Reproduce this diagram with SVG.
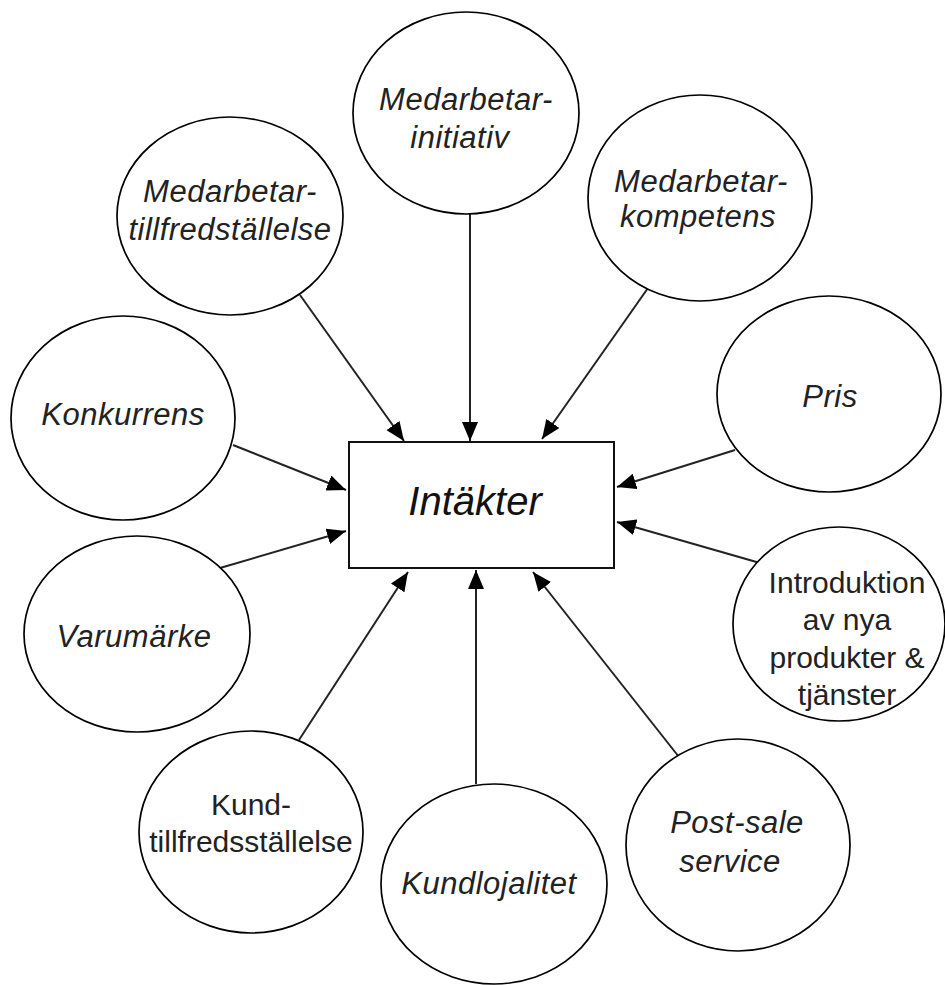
<svg xmlns="http://www.w3.org/2000/svg" width="945" height="985" viewBox="0 0 945 985">
  <style>
    .bubble { fill: #ffffff; stroke: #000000; stroke-width: 1.7; }
    .box { fill: #ffffff; stroke: #111111; stroke-width: 2; }
    .lbl { font-family: "Liberation Sans", Arial, sans-serif; font-size: 31px; font-style: italic; fill: #222222; text-anchor: middle; letter-spacing: 0.5px; }
    .up { font-family: "Liberation Sans", Arial, sans-serif; font-size: 30px; fill: #222222; text-anchor: middle; }
    .main { font-family: "Liberation Sans", Arial, sans-serif; font-size: 40px; font-style: italic; fill: #111111; text-anchor: middle; }
    .link { stroke: #222222; stroke-width: 2; fill: none; marker-end: url(#head); }
  </style>
  <defs>
    <!-- solid triangular arrowhead shared by all connectors -->
    <marker id="head" viewBox="0 0 19 16" refX="19" refY="8" markerWidth="19" markerHeight="16" markerUnits="userSpaceOnUse" orient="auto">
      <path d="M0,0 L19,8 L0,16 Z" fill="#000000"/>
    </marker>
  </defs>

  <rect width="945" height="985" fill="#ffffff"/>

  <!-- connectors -->
  <g id="connectors">
    <line class="link" x1="470" y1="214" x2="470" y2="441"/>
    <line class="link" x1="300" y1="295" x2="404" y2="441"/>
    <line class="link" x1="648" y1="288" x2="542" y2="439"/>
    <line class="link" x1="233" y1="445" x2="346" y2="490"/>
    <line class="link" x1="220" y1="568" x2="346" y2="531"/>
    <line class="link" x1="735" y1="450" x2="617" y2="487"/>
    <line class="link" x1="760" y1="563" x2="617" y2="522"/>
    <line class="link" x1="299" y1="740" x2="408" y2="572"/>
    <line class="link" x1="476" y1="784" x2="476" y2="570"/>
    <line class="link" x1="679" y1="757" x2="533" y2="572"/>
  </g>

  <!-- central node -->
  <g id="intakter">
    <rect class="box" x="349" y="442" width="265" height="126"/>
    <text class="main" x="475" y="515">Intäkter</text>
  </g>

  <g id="medarbetar-initiativ">
    <ellipse class="bubble" cx="466" cy="113" rx="113" ry="101"/>
    <text class="lbl" x="466" y="110">Medarbetar-</text>
    <text class="lbl" x="460" y="148">initiativ</text>
  </g>

  <g id="medarbetar-tillfredsstallelse">
    <ellipse class="bubble" cx="230" cy="216" rx="113" ry="99"/>
    <text class="lbl" x="230" y="202">Medarbetar-</text>
    <text class="lbl" x="230" y="240">tillfredställelse</text>
  </g>

  <g id="medarbetar-kompetens">
    <ellipse class="bubble" cx="700" cy="198" rx="112" ry="103"/>
    <text class="lbl" x="701" y="192">Medarbetar-</text>
    <text class="lbl" x="698" y="227">kompetens</text>
  </g>

  <g id="konkurrens">
    <ellipse class="bubble" cx="123" cy="418" rx="112" ry="102"/>
    <text class="lbl" x="123" y="425">Konkurrens</text>
  </g>

  <g id="pris">
    <ellipse class="bubble" cx="829" cy="394" rx="112" ry="98"/>
    <text class="lbl" x="830" y="407">Pris</text>
  </g>

  <g id="varumarke">
    <ellipse class="bubble" cx="137" cy="634" rx="113" ry="98"/>
    <text class="lbl" x="134" y="647">Varumärke</text>
  </g>

  <g id="introduktion">
    <ellipse class="bubble" cx="839" cy="624" rx="106" ry="97"/>
    <text class="up" x="847" y="593">Introduktion</text>
    <text class="up" x="847" y="630">av nya</text>
    <text class="up" x="847" y="668">produkter &amp;</text>
    <text class="up" x="847" y="705">tjänster</text>
  </g>

  <g id="kund-tillfredsstallelse">
    <ellipse class="bubble" cx="251" cy="832" rx="112" ry="101"/>
    <text class="up" x="251" y="815">Kund-</text>
    <text class="up" x="251" y="852">tillfredsställelse</text>
  </g>

  <g id="kundlojalitet">
    <ellipse class="bubble" cx="494" cy="884" rx="113" ry="100"/>
    <text class="lbl" x="489" y="894">Kundlojalitet</text>
  </g>

  <g id="post-sale-service">
    <ellipse class="bubble" cx="738" cy="845" rx="112" ry="106"/>
    <text class="lbl" x="737" y="833">Post-sale</text>
    <text class="lbl" x="730" y="872">service</text>
  </g>
</svg>
